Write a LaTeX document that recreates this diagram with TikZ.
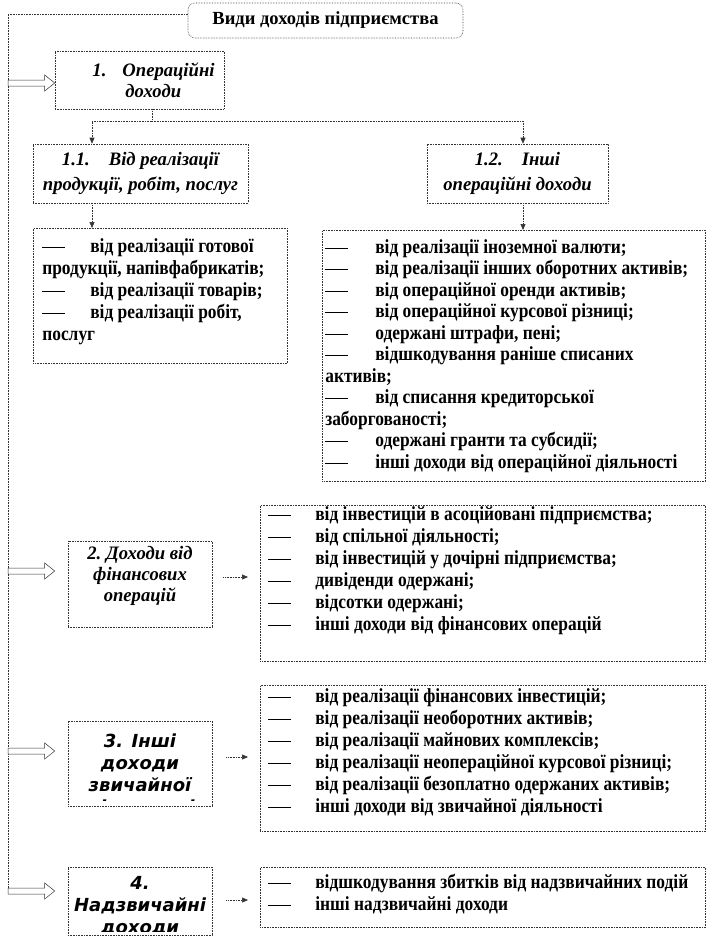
\documentclass[tikz,border=0pt]{standalone}
\usepackage{fontspec}
\setmainfont{Liberation Serif}
\newfontfamily\listfont[FakeStretch=0.87]{Liberation Serif}
\newfontfamily\boxserif[FakeStretch=0.98]{Liberation Serif}
\newfontfamily\boxsans{DejaVu Sans}
\usetikzlibrary{arrows.meta,calc}
\definecolor{frame}{HTML}{333333}
\newcommand\lidash[1][48pt]{\makebox[#1][l]{\rule[4.5pt]{23pt}{.9pt}}}
\newcommand\listtext[4]{\parbox[c][#2pt][t]{#1pt}{\raggedright\vspace*{#3pt}#4}}
\tikzset{
  inc frame/.style={draw=frame,densely dotted,line width=.6pt},
  inc box/.style={inc frame,align=center,inner sep=0pt,
    font=\boxserif\bfseries\itshape\fontsize{19}{21}\selectfont},
  inc sans/.style={align=center,inner sep=0pt,
    font=\boxsans\bfseries\itshape\fontsize{18}{22}\selectfont},
  inc list/.style={inc frame,anchor=north west,inner ysep=0pt,inner xsep=#1,
    font=\listfont\bfseries\fontsize{20}{22}\selectfont},
  inc link/.style={draw=frame,densely dotted,line width=.6pt},
  inc arrow/.style={inc link,-{Triangle[length=6pt,width=5pt]}},
  inc block/.style={draw=frame,fill=white,line width=.5pt,
    to path={let \p1=(\tikztostart),\p2=(\tikztotarget) in
      (\x1,\y1+3pt) -- (\x2-10pt,\y1+3pt) -- (\x2-10pt,\y1+8pt) -- (\x2,\y1)
      -- (\x2-10pt,\y1-8pt) -- (\x2-10pt,\y1-3pt) -- (\x1,\y1-3pt) -- cycle}}
}
\begin{document}
\begin{tikzpicture}[x=1pt,y=-1pt]
  \useasboundingbox (0,0) rectangle (712,951);
  \node[inc frame,rounded corners=7pt,minimum width=275,minimum height=35,
    font=\bfseries\fontsize{18.5}{20}\selectfont] (kinds) at (325.5,20.5) {Види доходів підприємства};
  \node[inc box,minimum width=169,minimum height=58,align=left] (oper) at (139.5,80)
    {\hspace*{28pt}\makebox[30pt][l]{1.}Операційні\\\hspace*{61pt}доходи};
  \node[inc box,minimum width=215,minimum height=59,
    font=\boxserif\bfseries\itshape\fontsize{19}{25}\selectfont] (sale) at (140.5,173.5)
    {1.1.\quad Від реалізації\\продукції, робіт, послуг};
  \node[inc box,minimum width=181,minimum height=59,
    font=\boxserif\bfseries\itshape\fontsize{19}{25}\selectfont] (othop) at (517.5,173.5)
    {1.2.\quad Інші\\операційні доходи};
  \node[inc list=9] (salelist) at (33,228) {\listtext{236}{135}{10}{%
    \lidash від реалізації готової\\
    продукції, напівфабрикатів;\\
    \lidash від реалізації товарів;\\
    \lidash від реалізації робіт,\\
    послуг}};
  \node[inc list=3,font=\listfont\bfseries\fontsize{20}{21.5}\selectfont] (othlist) at (322,230)
    {\listtext{377}{251}{9}{%
    \lidash[50pt]від реалізації іноземної валюти;\\
    \lidash[50pt]від реалізації інших оборотних активів;\\
    \lidash[50pt]від операційної оренди активів;\\
    \lidash[50pt]від операційної курсової різниці;\\
    \lidash[50pt]одержані штрафи, пені;\\
    \lidash[50pt]відшкодування раніше списаних\\
    активів;\\
    \lidash[50pt]від списання кредиторської\\
    заборгованості;\\
    \lidash[50pt]одержані гранти та субсидії;\\
    \lidash[50pt]інші доходи від операційної діяльності}};
  \node[inc box,minimum width=144,minimum height=86] (fin) at (140,584) {};
  \node[inc box,draw=none] (fintext) at ([yshift=8]fin.center) {2.\ Доходи від\\фінансових\\операцій};
  \node[inc list=8] (finlist) at (260,505) {\listtext{429}{156}{1}{%
    \lidash[47pt]від інвестицій в асоційовані підприємства;\\
    \lidash[47pt]від спільної діяльності;\\
    \lidash[47pt]від інвестицій у дочірні підприємства;\\
    \lidash[47pt]дивіденди одержані;\\
    \lidash[47pt]відсотки одержані;\\
    \lidash[47pt]інші доходи від фінансових операцій}};
  \node[inc box,minimum width=144,minimum height=85] (ord) at (140,763.5) {};
  \begin{scope}
    \clip (ord.north west) rectangle ([yshift=6]ord.south east);
    \node[inc sans] (ordtext) at ([yshift=-11]ord.center) {3. Інші\\доходи\\звичайної\\діяльності};
  \end{scope}
  \node[inc list=8] (ordlist) at (260,685) {\listtext{429}{146}{3}{%
    \lidash[47pt]від реалізації фінансових інвестицій;\\
    \lidash[47pt]від реалізації необоротних активів;\\
    \lidash[47pt]від реалізації майнових комплексів;\\
    \lidash[47pt]від реалізації неопераційної курсової різниці;\\
    \lidash[47pt]від реалізації безоплатно одержаних активів;\\
    \lidash[47pt]інші доходи від звичайної діяльності}};
  \node[inc box,minimum width=144,minimum height=68] (extra) at (140,901) {};
  \begin{scope}
    \clip (extra.north west) rectangle ([yshift=4]extra.south east);
    \node[inc sans] (extratext) at ([yshift=-5]extra.center) {4.\\Надзвичайні\\доходи};
  \end{scope}
  \node[inc list=8] (extralist) at (260,867) {\listtext{429}{60}{7}{%
    \lidash[47pt]відшкодування збитків від надзвичайних подій\\
    \lidash[47pt]інші надзвичайні доходи}};
  \coordinate (top) at (8,14);
  \coordinate (split) at (152,121);
  \coordinate (lft) at (92,121);
  \coordinate (rgt) at (523,121);
  \coordinate (a1) at ([yshift=-3]oper.west);
  \coordinate (a2) at ([xshift=-13,yshift=13]fin.west);
  \coordinate (a3) at ([xshift=-13,yshift=12.5]ord.west);
  \coordinate (a4) at ([xshift=-13,yshift=10]extra.west);
  \draw[inc link] (kinds.west |- top) -- (top) -- (top |- a4);
  \foreach \a in {a1,a2,a3,a4}{\draw[inc block] (top |- \a) to (\a);}
  \draw[inc link] (oper.south -| split) -- (split);
  \draw[inc arrow] (split) -- (lft) -- (lft |- sale.north);
  \draw[inc arrow] (split) -- (rgt) -- (rgt |- othop.north);
  \draw[inc arrow] (lft |- sale.south) -- (lft |- salelist.north);
  \draw[inc arrow] (rgt |- othop.south) -- (rgt |- othlist.north);
  \draw[inc arrow,shorten <=11pt,shorten >=12pt] ([yshift=7]fin.east) -- ([yshift=7]fin.east -| finlist.west);
  \draw[inc arrow,shorten <=14pt,shorten >=12pt] ([yshift=6.5]ord.east) -- ([yshift=6.5]ord.east -| ordlist.west);
  \draw[inc arrow,shorten <=14pt,shorten >=12pt] ([yshift=1]extra.east) -- ([yshift=1]extra.east -| extralist.west);
\end{tikzpicture}
\end{document}
